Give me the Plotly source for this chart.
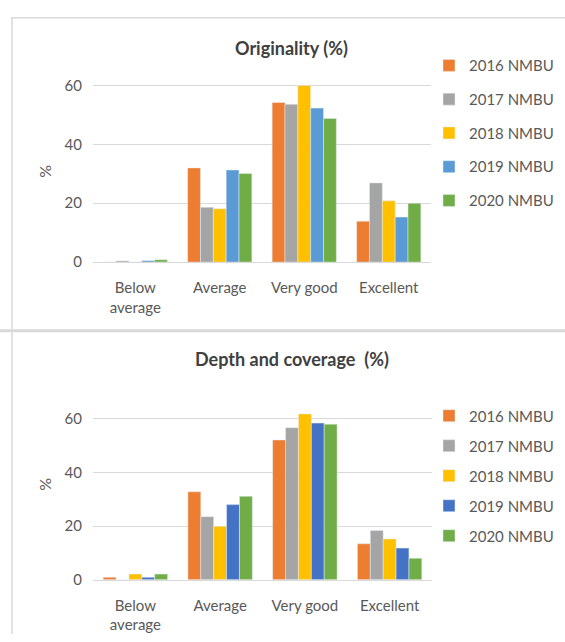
import plotly.graph_objects as go

categories = ["Below<br>average", "Average", "Very good", "Excellent"]
series_names = ["2016 NMBU", "2017 NMBU", "2018 NMBU", "2019 NMBU", "2020 NMBU"]

orig_2016 = [0.0, 32.0, 54.2, 13.9]
orig_2017 = [0.4, 18.6, 53.6, 26.9]
orig_2018 = [0.0, 18.1, 60.0, 20.8]
orig_2019 = [0.5, 31.3, 52.3, 15.3]
orig_2020 = [0.8, 30.1, 48.8, 20.0]

depth_2016 = [0.9, 32.8, 52.1, 13.4]
depth_2017 = [0.0, 23.5, 56.7, 18.4]
depth_2018 = [2.1, 19.9, 61.8, 15.2]
depth_2019 = [0.9, 28.0, 58.4, 11.8]
depth_2020 = [2.1, 31.1, 58.0, 8.0]

y_ticks = [0, 20, 40, 60]

colors_top = ["#ED7D31", "#A5A5A5", "#FFC000", "#5B9BD5", "#70AD47"]
colors_bottom = ["#ED7D31", "#A5A5A5", "#FFC000", "#4472C4", "#70AD47"]

W, H = 565, 642
FONT = "Lato"
TXT = "#595959"
GRID = "#D9D9D9"

fig = go.Figure()

top_data = [orig_2016, orig_2017, orig_2018, orig_2019, orig_2020]
bot_data = [depth_2016, depth_2017, depth_2018, depth_2019, depth_2020]

for i, (name, vals) in enumerate(zip(series_names, top_data)):
    fig.add_trace(go.Bar(x=categories, y=vals, name=name, marker_color=colors_top[i],
                         xaxis="x", yaxis="y", legend="legend", legendgroup="t%d" % i))
for i, (name, vals) in enumerate(zip(series_names, bot_data)):
    fig.add_trace(go.Bar(x=categories, y=vals, name=name, marker_color=colors_bottom[i],
                         xaxis="x2", yaxis="y2", legend="legend2", legendgroup="b%d" % i))

def px_x(p):
    return p / W

def px_y(p):
    return 1 - p / H

tick_font = dict(family=FONT, size=15, color=TXT)

def hline(x0, x1, y, w=1.5):
    return dict(type="line", xref="paper", yref="paper", x0=px_x(x0), x1=px_x(x1),
                y0=px_y(y), y1=px_y(y), line=dict(color=GRID, width=w))

def vline(x, y0, y1, w=1.5):
    return dict(type="line", xref="paper", yref="paper", x0=px_x(x), x1=px_x(x),
                y0=px_y(y0), y1=px_y(y1), line=dict(color=GRID, width=w))

fig.update_layout(
    width=W, height=H,
    margin=dict(l=0, r=0, t=0, b=0),
    paper_bgcolor="white", plot_bgcolor="white",
    barmode="group", bargap=0.24, bargroupgap=0,
    showlegend=True,
    xaxis=dict(domain=[px_x(93), px_x(431)], anchor="y", showline=True, linecolor=GRID,
               linewidth=1, ticks="", ticklabelstandoff=12, tickfont=tick_font),
    yaxis=dict(domain=[px_y(263), px_y(77)], anchor="x", range=[0, 62], tickvals=y_ticks,
               showgrid=True, gridcolor=GRID, zeroline=False, showline=False, ticks="",
               ticklabelstandoff=10, tickfont=tick_font),
    xaxis2=dict(domain=[px_x(93), px_x(432)], anchor="y2", showline=True, linecolor=GRID,
                linewidth=1, ticks="", ticklabelstandoff=12, tickfont=tick_font),
    yaxis2=dict(domain=[px_y(586.7), px_y(409)], anchor="x2", range=[0, 65], tickvals=y_ticks,
                showgrid=True, gridcolor=GRID, zeroline=False, showline=False, ticks="",
                ticklabelstandoff=10, tickfont=tick_font),
    legend=dict(x=px_x(429), y=px_y(46), xanchor="left", yanchor="top",
                font=dict(family=FONT, size=15, color=TXT), tracegroupgap=11.25,
                bgcolor="rgba(0,0,0,0)", itemwidth=30),
    legend2=dict(x=px_x(429), y=px_y(403), xanchor="left", yanchor="top",
                 font=dict(family=FONT, size=15, color=TXT), tracegroupgap=7.5,
                 bgcolor="rgba(0,0,0,0)", itemwidth=30),
    annotations=[
        dict(text="<b>Originality (%)</b>", x=px_x(291), y=px_y(45), xref="paper", yref="paper",
             xanchor="center", yanchor="middle",
             showarrow=False, font=dict(family=FONT, size=18, color="#404040")),
        dict(text="<b>Depth and coverage  (%)</b>", x=px_x(292), y=px_y(362), xref="paper", yref="paper",
             xanchor="center", yanchor="middle",
             showarrow=False, font=dict(family=FONT, size=18, color="#404040")),
        dict(text="%", x=px_x(45), y=px_y(171), xref="paper", yref="paper", textangle=-90,
             xanchor="center", yanchor="middle",
             showarrow=False, font=dict(family=FONT, size=16, color=TXT)),
        dict(text="%", x=px_x(45), y=px_y(490), xref="paper", yref="paper", textangle=-90,
             xanchor="center", yanchor="middle",
             showarrow=False, font=dict(family=FONT, size=16, color=TXT)),
    ],
    shapes=[
        hline(11, 565, 14),
        vline(12, 14, 332),
        hline(0, 565, 333, 3),
        vline(12, 334, 642),
    ],
)

fig.write_html("out.html", config={"displayModeBar": False},
               post_script="document.body.style.margin='0px';document.body.style.overflow='hidden';")
